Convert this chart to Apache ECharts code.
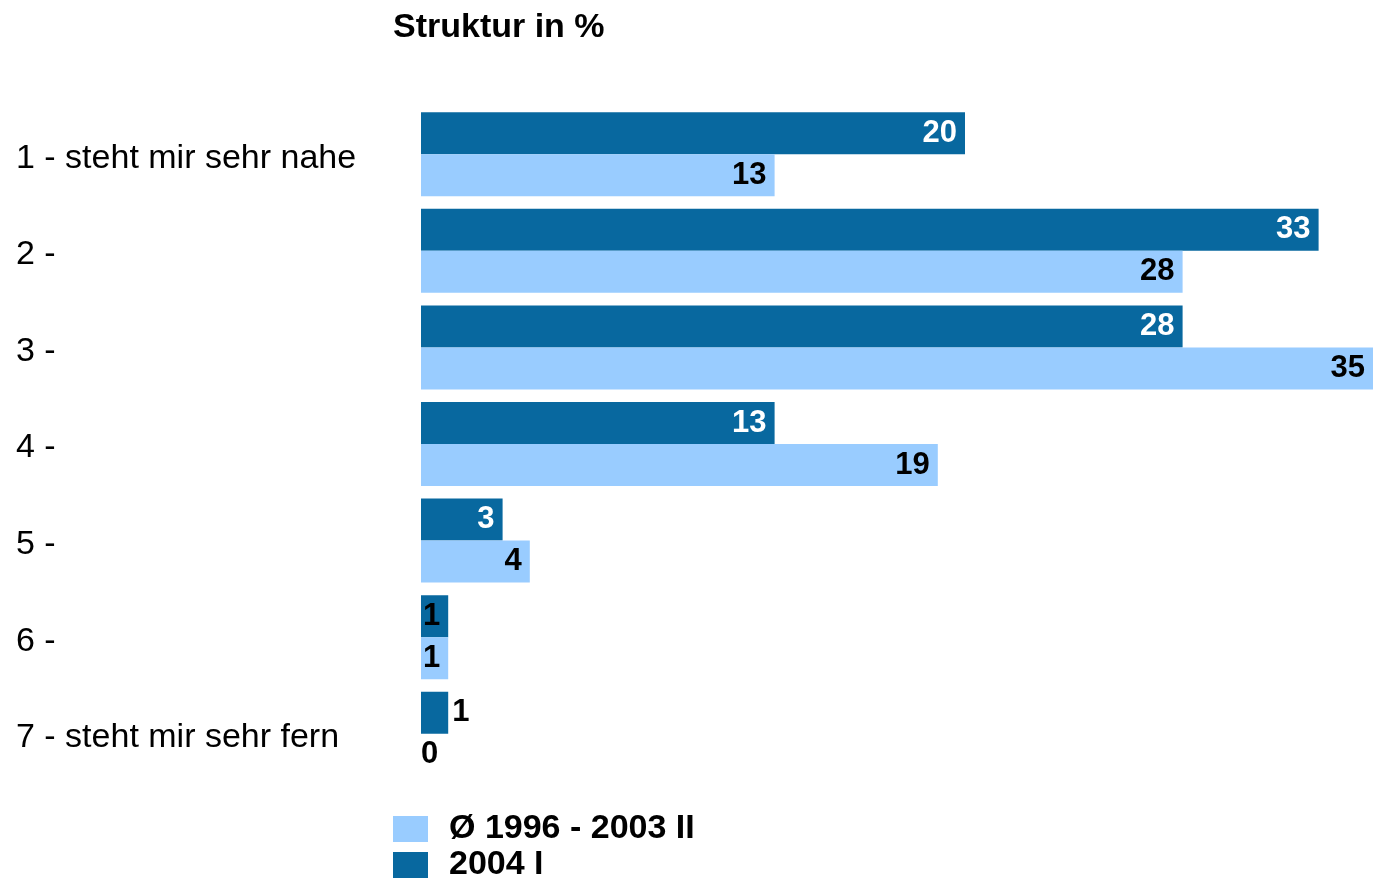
<!DOCTYPE html>
<html>
<head>
<meta charset="utf-8">
<script src="https://cdn.jsdelivr.net/npm/echarts@6/dist/echarts.min.js"></script>
<style>html,body{margin:0;padding:0;background:#fff}#c{width:1373px;height:879px}</style>
</head>
<body>
<div id="c"></div>
<script>
var categories = ['1 - steht mir sehr nahe', '2 -', '3 -', '4 -', '5 -', '6 -', '7 - steht mir sehr fern'];
var series2004 = [20, 33, 28, 13, 3, 1, 1];
var seriesAvg = [13, 28, 35, 19, 4, 1, 0];
var nameAvg = 'Ø 1996 - 2003 II';
var name2004 = '2004 I';
var titleText = 'Struktur in %';

var FONT = '"Liberation Sans", Arial, sans-serif';
var DARK = '#08689f';
var LIGHT = '#99ccff';

function darkData(arr) {
  return arr.map(function (v, i) {
    var o = { value: v };
    if (i === arr.length - 1) {
      o.label = { position: 'right', color: '#000', distance: 4 };
    } else if (v < 2) {
      o.label = { color: '#000' };
    }
    return o;
  });
}
function lightData(arr) {
  return arr.map(function (v) {
    var o = { value: v };
    if (v === 0) o.label = { position: 'right', distance: 0 };
    return o;
  });
}

var legendBase = {
  orient: 'vertical', left: 393, padding: 0,
  itemWidth: 35, itemHeight: 26,
  icon: 'rect',
  textStyle: { fontFamily: FONT, fontSize: 34, fontWeight: 'bold', color: '#000', padding: [0, 0, 0, 16] }
};

var chart = echarts.init(document.getElementById('c'), null, { renderer: 'canvas' });
chart.setOption({
  animation: false,
  textStyle: { fontFamily: FONT },
  title: {
    text: titleText, left: 388, top: 6,
    textStyle: { fontFamily: FONT, fontSize: 34, fontWeight: 'bold', color: '#000' }
  },
  legend: [
    Object.assign({}, legendBase, { top: 812, data: [nameAvg] }),
    Object.assign({}, legendBase, { top: 848, data: [name2004] })
  ],
  grid: { left: 421, right: 0, top: 106, height: 676, containLabel: false },
  xAxis: {
    type: 'value', min: 0, max: 35, show: false
  },
  yAxis: {
    type: 'category', data: categories, inverse: true,
    axisLine: { show: false }, axisTick: { show: false },
    axisLabel: { align: 'left', margin: 405, fontSize: 34, color: '#000', fontFamily: FONT, verticalAlign: 'top', lineHeight: 8 }
  },
  series: [
    {
      name: name2004, type: 'bar', data: darkData(series2004),
      itemStyle: { color: DARK }, barGap: '0%', barCategoryGap: '13%',
      label: { show: true, position: 'insideRight', distance: 8, color: '#fff', fontSize: 31, fontWeight: 'bold', fontFamily: FONT }
    },
    {
      name: nameAvg, type: 'bar', data: lightData(seriesAvg),
      itemStyle: { color: LIGHT }, barGap: '0%', barCategoryGap: '13%',
      label: { show: true, position: 'insideRight', distance: 8, color: '#000', fontSize: 31, fontWeight: 'bold', fontFamily: FONT }
    }
  ]
});
</script>
</body>
</html>
